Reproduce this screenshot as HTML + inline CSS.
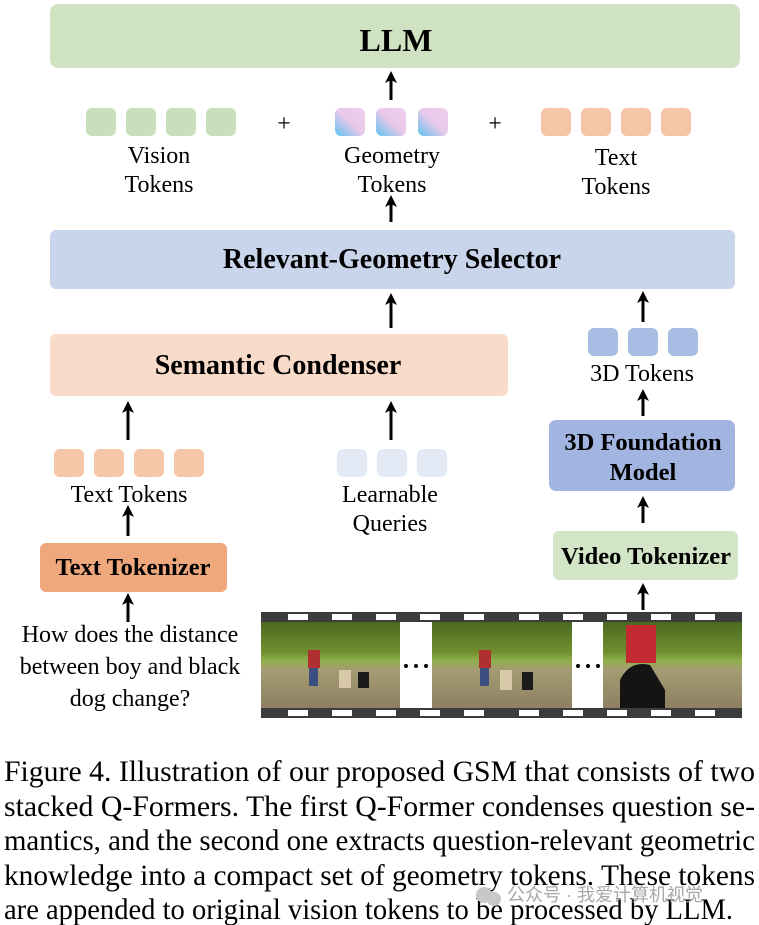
<!DOCTYPE html>
<html><head><meta charset="utf-8"><style>html,body{margin:0;padding:0;background:#fff}svg{display:block}</style></head>
<body>
<svg width="759" height="925" viewBox="0 0 759 925" xmlns="http://www.w3.org/2000/svg" font-family="'Liberation Serif', serif">
<defs>
<marker id="ah" markerWidth="12" markerHeight="12" refX="5" refY="6" orient="auto" markerUnits="userSpaceOnUse">
<path d="M0,0 L12,6 L0,12 L3,6 z" fill="#000"/></marker>
<linearGradient id="geo" x1="0" y1="1" x2="1" y2="0">
<stop offset="0" stop-color="#5ec3ee"/><stop offset="0.5" stop-color="#e8c8ea"/><stop offset="1" stop-color="#f1cdea"/></linearGradient>
<linearGradient id="img" x1="0" y1="0" x2="0" y2="1">
<stop offset="0" stop-color="#4b6a22"/><stop offset="0.35" stop-color="#6f8f2e"/><stop offset="0.45" stop-color="#8fb04a"/><stop offset="0.55" stop-color="#a49c72"/><stop offset="1" stop-color="#8e8062"/></linearGradient>
</defs>

<rect x="50" y="4" width="690" height="64" rx="8" fill="#cfe3c3"/>
<text x="396" y="51" text-anchor="middle" font-size="32" font-weight="bold">LLM</text>
<line x1="391" y1="100" x2="391" y2="78" stroke="#000" stroke-width="3" marker-end="url(#ah)"/>

<g fill="#c7e0bb">
<rect x="86" y="108" width="30" height="28" rx="6"/><rect x="126" y="108" width="30" height="28" rx="6"/><rect x="166" y="108" width="30" height="28" rx="6"/><rect x="206" y="108" width="30" height="28" rx="6"/></g>
<text x="284" y="131" text-anchor="middle" font-size="24">+</text>
<g fill="url(#geo)">
<rect x="335" y="108" width="30" height="28" rx="6"/><rect x="376" y="108" width="30" height="28" rx="6"/><rect x="418" y="108" width="30" height="28" rx="6"/></g>
<text x="495" y="131" text-anchor="middle" font-size="24">+</text>
<g fill="#f5c6a8">
<rect x="541" y="108" width="30" height="28" rx="6"/><rect x="581" y="108" width="30" height="28" rx="6"/><rect x="621" y="108" width="30" height="28" rx="6"/><rect x="661" y="108" width="30" height="28" rx="6"/></g>
<g font-size="24" text-anchor="middle">
<text x="159" y="163">Vision</text><text x="159" y="192">Tokens</text>
<text x="392" y="163">Geometry</text><text x="392" y="192">Tokens</text>
<text x="616" y="165">Text</text><text x="616" y="194">Tokens</text>
</g>
<line x1="391" y1="222" x2="391" y2="202" stroke="#000" stroke-width="3" marker-end="url(#ah)"/>

<rect x="50" y="230" width="685" height="59" rx="6" fill="#c9d5ea"/>
<text x="392" y="268" text-anchor="middle" font-size="28" font-weight="bold">Relevant-Geometry Selector</text>
<line x1="391" y1="328" x2="391" y2="300" stroke="#000" stroke-width="3" marker-end="url(#ah)"/>
<line x1="643" y1="322" x2="643" y2="298" stroke="#000" stroke-width="3" marker-end="url(#ah)"/>

<rect x="50" y="334" width="458" height="62" rx="6" fill="#f8dcc9"/>
<text x="278" y="374" text-anchor="middle" font-size="28" font-weight="bold">Semantic Condenser</text>

<g fill="#a8bde4">
<rect x="588" y="328" width="30" height="28" rx="6"/><rect x="628" y="328" width="30" height="28" rx="6"/><rect x="668" y="328" width="30" height="28" rx="6"/></g>
<text x="642" y="381" text-anchor="middle" font-size="24">3D Tokens</text>
<line x1="643" y1="416" x2="643" y2="396" stroke="#000" stroke-width="3" marker-end="url(#ah)"/>
<rect x="549" y="420" width="186" height="71" rx="7" fill="#a2b5e0"/>
<text x="643" y="450" text-anchor="middle" font-size="24.5" font-weight="bold">3D Foundation</text>
<text x="643" y="480" text-anchor="middle" font-size="24.5" font-weight="bold">Model</text>
<line x1="643" y1="523" x2="643" y2="503" stroke="#000" stroke-width="3" marker-end="url(#ah)"/>
<rect x="553" y="531" width="185" height="49" rx="6" fill="#d2e6c7"/>
<text x="646" y="564" text-anchor="middle" font-size="24.5" font-weight="bold">Video Tokenizer</text>
<line x1="643" y1="610" x2="643" y2="590" stroke="#000" stroke-width="3" marker-end="url(#ah)"/>

<line x1="128" y1="440" x2="128" y2="408" stroke="#000" stroke-width="3" marker-end="url(#ah)"/>
<line x1="391" y1="440" x2="391" y2="408" stroke="#000" stroke-width="3" marker-end="url(#ah)"/>
<g fill="#f5c6a8">
<rect x="54" y="449" width="30" height="28" rx="6"/><rect x="94" y="449" width="30" height="28" rx="6"/><rect x="134" y="449" width="30" height="28" rx="6"/><rect x="174" y="449" width="30" height="28" rx="6"/></g>
<g fill="#e3e9f5">
<rect x="337" y="449" width="30" height="28" rx="6"/><rect x="377" y="449" width="30" height="28" rx="6"/><rect x="417" y="449" width="30" height="28" rx="6"/></g>
<g font-size="24" text-anchor="middle">
<text x="129" y="502">Text Tokens</text>
<text x="390" y="502">Learnable</text><text x="390" y="531">Queries</text>
</g>
<line x1="128" y1="536" x2="128" y2="512" stroke="#000" stroke-width="3" marker-end="url(#ah)"/>
<rect x="40" y="543" width="187" height="49" rx="6" fill="#efa87c"/>
<text x="133" y="575" text-anchor="middle" font-size="24.5" font-weight="bold">Text Tokenizer</text>
<line x1="128" y1="622" x2="128" y2="600" stroke="#000" stroke-width="3" marker-end="url(#ah)"/>
<g font-size="24" text-anchor="middle">
<text x="130" y="642">How does the distance</text>
<text x="130" y="674">between boy and black</text>
<text x="130" y="706">dog change?</text>
</g>

<rect x="261" y="612" width="481" height="10" fill="#3c3c3c"/>
<rect x="261" y="708" width="481" height="10" fill="#3c3c3c"/>
<g fill="#fff">
<rect x="288" y="614" width="20" height="6"/><rect x="332" y="614" width="20" height="6"/><rect x="376" y="614" width="20" height="6"/><rect x="420" y="614" width="20" height="6"/><rect x="464" y="614" width="20" height="6"/><rect x="519" y="614" width="20" height="6"/><rect x="563" y="614" width="20" height="6"/><rect x="607" y="614" width="20" height="6"/><rect x="651" y="614" width="20" height="6"/><rect x="695" y="614" width="20" height="6"/>
<rect x="288" y="710" width="20" height="6"/><rect x="332" y="710" width="20" height="6"/><rect x="376" y="710" width="20" height="6"/><rect x="420" y="710" width="20" height="6"/><rect x="464" y="710" width="20" height="6"/><rect x="519" y="710" width="20" height="6"/><rect x="563" y="710" width="20" height="6"/><rect x="607" y="710" width="20" height="6"/><rect x="651" y="710" width="20" height="6"/><rect x="695" y="710" width="20" height="6"/>
</g>
<rect x="261" y="622" width="139" height="86" fill="url(#img)"/>
<rect x="432" y="622" width="140" height="86" fill="url(#img)"/>
<rect x="603" y="622" width="139" height="86" fill="url(#img)"/>
<rect x="308" y="650" width="12" height="18" fill="#b03030"/><rect x="309" y="668" width="9" height="18" fill="#3a4f80"/>
<rect x="339" y="670" width="12" height="18" fill="#d8c9a8"/><rect x="358" y="672" width="11" height="16" fill="#1b1b1b"/>
<rect x="479" y="650" width="12" height="18" fill="#b03030"/><rect x="480" y="668" width="9" height="18" fill="#3a4f80"/>
<rect x="500" y="670" width="12" height="20" fill="#d8c9a8"/><rect x="522" y="672" width="11" height="18" fill="#1b1b1b"/>
<rect x="626" y="625" width="30" height="38" fill="#c02a30"/><path d="M620,680 Q630,660 650,665 L665,690 L665,708 L620,708 z" fill="#141414"/>
<g fill="#000"><circle cx="406" cy="666" r="2"/><circle cx="416" cy="666" r="2"/><circle cx="426" cy="666" r="2"/>
<circle cx="578" cy="666" r="2"/><circle cx="588" cy="666" r="2"/><circle cx="598" cy="666" r="2"/></g>

<g font-size="30" fill="#000">
<text x="4" y="781" textLength="751" lengthAdjust="spacingAndGlyphs">Figure 4.  Illustration of our proposed GSM that consists of two</text>
<text x="4" y="816" textLength="751" lengthAdjust="spacingAndGlyphs">stacked Q-Formers.  The first Q-Former condenses question se-</text>
<text x="4" y="850" textLength="751" lengthAdjust="spacingAndGlyphs">mantics, and the second one extracts question-relevant geometric</text>
<text x="4" y="885" textLength="751" lengthAdjust="spacingAndGlyphs">knowledge into a compact set of geometry tokens.  These tokens</text>
<text x="4" y="919" textLength="729" lengthAdjust="spacingAndGlyphs">are appended to original vision tokens to be processed by LLM.</text>
</g>
<circle cx="484" cy="895" r="8" fill="#c8c8c8"/><circle cx="494" cy="899" r="7" fill="#c8c8c8"/>
<text x="507" y="901" font-size="18" fill="#a8a8a8" font-family="'Liberation Sans','Noto Sans CJK SC',sans-serif">公众号 · 我爱计算机视觉</text>
</svg>
</body></html>
